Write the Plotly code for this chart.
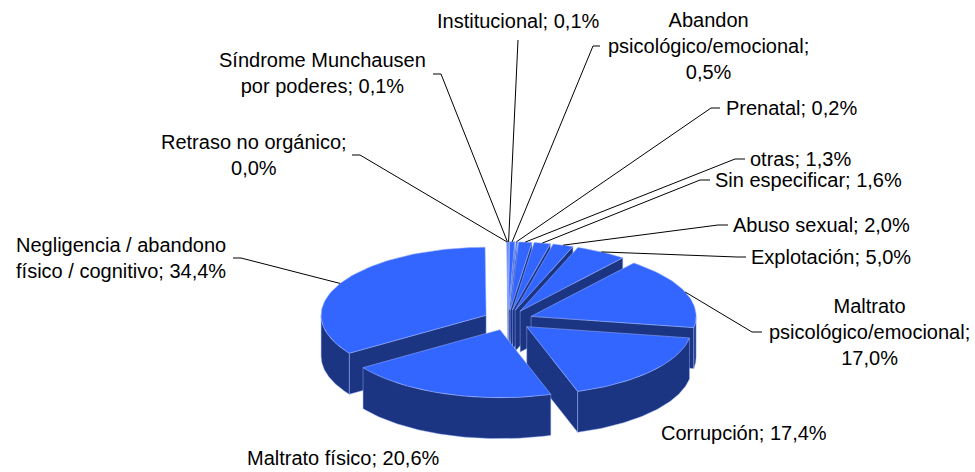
import numpy as np
import plotly.graph_objects as go

# ---------------- data ----------------
categories = [
    "Institucional",
    "Abandon<br>psicológico/emocional",
    "Prenatal",
    "otras",
    "Sin especificar",
    "Abuso sexual",
    "Explotación",
    "Maltrato<br>psicológico/emocional",
    "Corrupción",
    "Maltrato físico",
    "Negligencia / abandono<br>físico / cognitivo",
    "Retraso no orgánico",
    "Síndrome Munchausen<br>por poderes",
]
values = [0.1, 0.5, 0.2, 1.3, 1.6, 2.0, 5.0, 17.0, 17.4, 20.6, 34.4, 0.0, 0.1]
label_sep = ["; ", ";<br>", "; ", "; ", "; ", "; ", "; ", ";<br>", "; ", "; ", "; ", ";<br>", "; "]

# ---------------- layout of the drawing (pixel space) ----------------
W, H = 975, 472
CX, CY = 508, 320          # pie centre
RX, RY = 165, 68           # ellipse radii of the top face
DEPTH = 41                 # thickness of the pie
EXPLODE = 0.15             # explosion (fraction of radius)
TOP_COLOR = "rgb(51,102,255)"
SIDE_COLOR = "rgb(28,53,130)"
EDGE_COLOR = "rgba(150,175,255,0.9)"
FONT = "Liberation Sans, Arial, sans-serif"
FS = 20

# label placement: (x, y, xanchor, align, elbow) ; elbow = (x_start, x_end, y) or None
label_layout = [
    (518, 21, "center", "center", ("v", 518, 40)),
    (708, 46, "center", "center", (600, 593, 46)),
    (724, 108, "left", "left", (720, 711, 108)),
    (748, 159, "left", "left", (745, 735, 159)),
    (713, 180, "left", "left", (710, 700, 180)),
    (731, 225, "left", "left", (728, 718, 225)),
    (749, 257, "left", "left", (746, 737, 257)),
    (869, 332, "center", "center", (762, 752, 332)),
    (744, 433, "center", "center", None),
    (343, 458, "center", "center", None),
    (121, 258, "center", "center", (233, 241, 258)),
    (254, 155, "center", "center", (352, 360, 155)),
    (322, 73, "center", "center", (433, 441, 74)),
]

total = sum(values)
fracs = np.array(values) / total
ends = np.cumsum(fracs) * 2 * np.pi
starts = ends - fracs * 2 * np.pi


def pt(theta, r, off, dz=0.0):
    return (CX + off[0] + r * RX * np.sin(theta),
            CY + off[1] - r * RY * np.cos(theta) + dz)


fig = go.Figure()

slices = []
for i, (a0, a1) in enumerate(zip(starts, ends)):
    mid = 0.5 * (a0 + a1)
    off = (EXPLODE * RX * np.sin(mid), -EXPLODE * RY * np.cos(mid))
    slices.append((i, a0, a1, mid, off))


def add_poly(xs, ys, color, line_color=None, lw=0):
    fig.add_trace(go.Scatter(
        x=list(xs) + [xs[0]], y=list(ys) + [ys[0]],
        mode="lines", fill="toself", fillcolor=color,
        line=dict(color=line_color or color, width=lw),
        hoverinfo="skip", showlegend=False))


# painter's order: back slices first
for i, a0, a1, mid, off in sorted(slices, key=lambda s: s[4][1]):
    if values[i] <= 0:
        continue
    # radial wall at start angle
    if np.sin(a0) < -1e-9:
        p = [pt(a0, 0, off), pt(a0, 1, off), pt(a0, 1, off, DEPTH), pt(a0, 0, off, DEPTH)]
        add_poly([q[0] for q in p], [q[1] for q in p], SIDE_COLOR, EDGE_COLOR, 0.5)
    # radial wall at end angle
    if np.sin(a1) > 1e-9:
        p = [pt(a1, 0, off), pt(a1, 1, off), pt(a1, 1, off, DEPTH), pt(a1, 0, off, DEPTH)]
        add_poly([q[0] for q in p], [q[1] for q in p], SIDE_COLOR, EDGE_COLOR, 0.5)
    # outer curved wall (front half only)
    lo, hi = max(a0, np.pi / 2), min(a1, 3 * np.pi / 2)
    if hi > lo:
        th = np.linspace(lo, hi, 80)
        topx, topy = pt(th, 1, off)
        botx, boty = pt(th, 1, off, DEPTH)
        xs = np.concatenate([topx, botx[::-1]])
        ys = np.concatenate([topy, boty[::-1]])
        add_poly(xs, ys, SIDE_COLOR, EDGE_COLOR, 0.5)
    # top face
    th = np.linspace(a0, a1, max(4, int(200 * fracs[i]) + 4))
    ax, ay = pt(th, 1, off)
    cx0, cy0 = pt(0, 0, off)
    xs = np.concatenate([[cx0], ax])
    ys = np.concatenate([[cy0], ay])
    add_poly(xs, ys, TOP_COLOR, EDGE_COLOR, 0.6)

# labels & leader lines
for i, (lx, ly, xanc, align, elbow) in enumerate(label_layout):
    a0, a1, mid, off = slices[i][1], slices[i][2], slices[i][3], slices[i][4]
    text = categories[i] + label_sep[i] + f"{values[i]:.1f}".replace(".", ",") + "%"
    fig.add_annotation(x=lx, y=ly, xref="x", yref="y", text=text, showarrow=False,
                       xanchor=xanc, yanchor="middle", align=align,
                       font=dict(family=FONT, size=FS, color="black"))
    if elbow is not None:
        ax_, ay_ = pt(mid, 1, off)
        if elbow[0] == "v":
            xs = [elbow[1], ax_]
            ys = [elbow[2], ay_]
        else:
            xs = [elbow[0], elbow[1], ax_]
            ys = [elbow[2], elbow[2], ay_]
        fig.add_trace(go.Scatter(x=xs, y=ys, mode="lines",
                                 line=dict(color="black", width=1),
                                 hoverinfo="skip", showlegend=False))

fig.update_layout(
    width=W, height=H,
    margin=dict(l=0, r=0, t=0, b=0),
    paper_bgcolor="white", plot_bgcolor="white",
    xaxis=dict(range=[0, W], visible=False, fixedrange=True),
    yaxis=dict(range=[H, 0], visible=False, fixedrange=True),
    showlegend=False,
)

fig.write_html("out.html", config={"displayModeBar": False},
               post_script="document.body.style.margin='0';document.body.style.overflow='hidden';")
